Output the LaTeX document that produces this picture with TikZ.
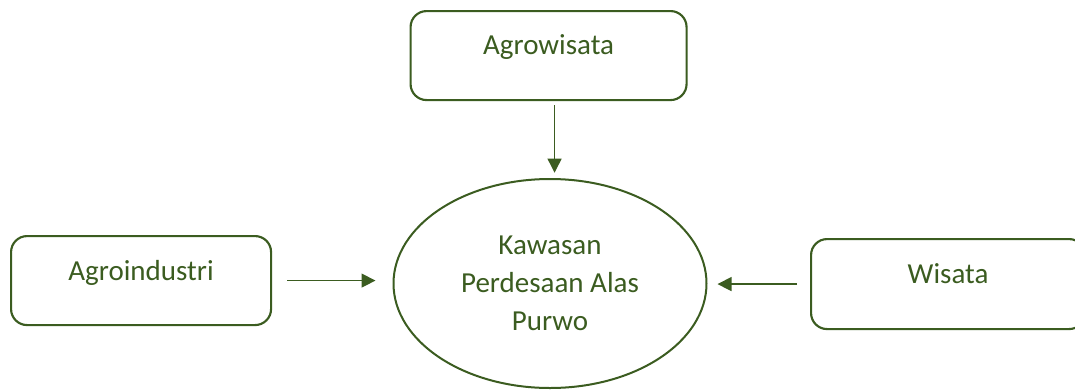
\documentclass[tikz,border=0pt]{standalone}
\usepackage{fontspec}
\setmainfont{Carlito}
\usepackage{tikz}
\usetikzlibrary{shapes.geometric, arrows.meta}
\definecolor{leafgreen}{HTML}{3B5C20}

\begin{document}
\begin{tikzpicture}[x=0.75pt, y=-0.75pt,
    font=\fontsize{21.75}{28.5}\selectfont, text=leafgreen,
    sidebox/.style={draw=leafgreen, line width=1.6pt, rounded corners=12pt,
      inner sep=0pt, anchor=north west, align=center},
    areanode/.style={draw=leafgreen, line width=1.5pt, ellipse, inner sep=0pt,
      minimum width=234.75pt, minimum height=156.75pt, align=center},
    flow/.style={draw=leafgreen, line width=0.9pt,
      -{Triangle[length=10.5pt, width=10.5pt]}}]
        \path[use as bounding box, clip] (0,0) rectangle (1075,390);
        % Central area
        \node[areanode] (kawasan) at (550,283.5)
          {Kawasan\\Perdesaan Alas\\Purwo};
        % Surrounding sectors
        \node[sidebox, minimum width=207pt, text height=32.25pt, text depth=34.5pt]
          (agrowisata) at (409.5,10) {Agrowisata};
        \node[sidebox, minimum width=195pt, text height=33pt, text depth=33.75pt]
          (agroindustri) at (10,235) {Agroindustri};
        \node[sidebox, minimum width=205.5pt, text height=33pt, text depth=34.5pt]
          (wisata) at (810,238) {Wisata};
        % Arrows into the centre
        \draw[flow, shorten <=3pt, shorten >=4pt]
          ([xshift=4.5pt]agrowisata.south) -- ([xshift=4.5pt]agrowisata.south |- kawasan.north);
        \draw[flow, shorten <=11.25pt, shorten >=12.75pt]
          (agroindustri.east) -- (agroindustri.east -| kawasan.west);
        \draw[flow, shorten <=9.75pt, shorten >=7.5pt]
          (wisata.west) -- (wisata.west -| kawasan.east);
\end{tikzpicture}
\end{document}
